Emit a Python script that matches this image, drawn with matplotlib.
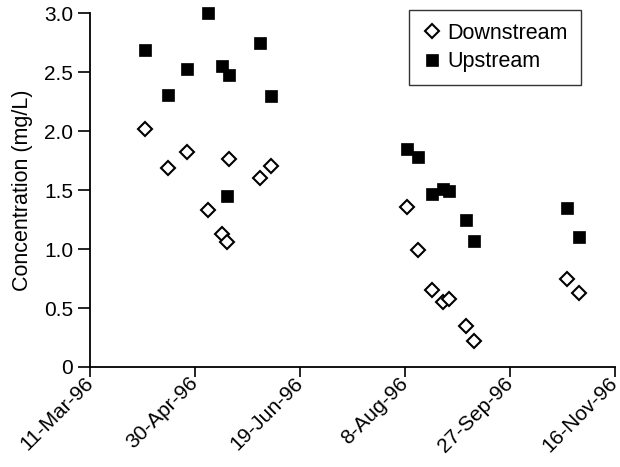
import matplotlib
matplotlib.use('Agg')
import matplotlib.pyplot as plt
import matplotlib.dates as mdates
import numpy as np
from datetime import datetime, timedelta

plt.rcParams['font.family'] = ['Liberation Sans', 'DejaVu Sans']

# sampling dates
dates = ['1996-04-06', '1996-04-17', '1996-04-26', '1996-05-06', '1996-05-13',
         '1996-05-15', '1996-05-16', '1996-05-31', '1996-06-05', '1996-08-09',
         '1996-08-14', '1996-08-21', '1996-08-26', '1996-08-29', '1996-09-06',
         '1996-09-10', '1996-10-24', '1996-10-30']

downstream = [2.02, 1.69, 1.82, 1.33, 1.125, 1.057, 1.76, 1.60, 1.705, 1.36,
              0.99, 0.65, 0.553, 0.58, 0.35, 0.223, 0.743, 0.624]
upstream = [2.69, 2.31, 2.525, 3.0, 2.55, 1.45, 2.48, 2.75, 2.30, 1.85,
            1.78, 1.47, 1.51, 1.49, 1.25, 1.07, 1.345, 1.10]

yticks = [0, 0.5, 1.0, 1.5, 2.0, 2.5, 3.0]
ytick_labels = ['0', '0.5', '1.0', '1.5', '2.0', '2.5', '3.0']

x = [datetime.strptime(d, '%Y-%m-%d') for d in dates]
start = datetime(1996, 3, 11)
xticks = [start + timedelta(days=50 * i) for i in range(6)]

fig = plt.figure(figsize=(6.2, 4.67), dpi=100)
ax = fig.add_axes([90 / 620, 100 / 467, 525 / 620, 353.7 / 467])

ax.plot(x, downstream, linestyle='none', marker='D', markersize=7,
        markerfacecolor='white', markeredgecolor='black', markeredgewidth=1.5,
        label='Downstream', clip_on=False)
ax.plot(x, upstream, linestyle='none', marker='s', markersize=8.8,
        markerfacecolor='black', markeredgecolor='black', markeredgewidth=0.5,
        label='Upstream', clip_on=False, zorder=3)

ax.set_xlim(xticks[0], xticks[-1])
ax.set_ylim(0, 3.0)
ax.set_xticks(xticks)
ax.xaxis.set_major_formatter(mdates.DateFormatter('%-d-%b-%y'))
ax.set_yticks(yticks)
ax.set_yticklabels(ytick_labels)

for s in ['top', 'right']:
    ax.spines[s].set_visible(False)
for s in ['left', 'bottom']:
    ax.spines[s].set_linewidth(1.3)

ax.tick_params(axis='y', length=9, width=1.2, labelsize=15, pad=3)
ax.tick_params(axis='x', length=7.5, width=1.2, labelsize=15, pad=2)
for lab in ax.get_xticklabels():
    lab.set_rotation(45)
    lab.set_ha('right')
    lab.set_va('center')
    lab.set_rotation_mode('anchor')

ax.set_ylabel('Concentration (mg/L)', fontsize=15.5, labelpad=8)

leg = fig.legend(loc='upper right', bbox_to_anchor=(580.7 / 620, 1 - 10 / 467),
                 frameon=True, fancybox=False, fontsize=15.5, borderaxespad=0,
                 handletextpad=0.2, handlelength=1.0, labelspacing=0.35,
                 borderpad=0.6)
leg.get_frame().set_edgecolor('black')
leg.get_frame().set_linewidth(1.0)

fig.savefig('out.png', dpi=100)
